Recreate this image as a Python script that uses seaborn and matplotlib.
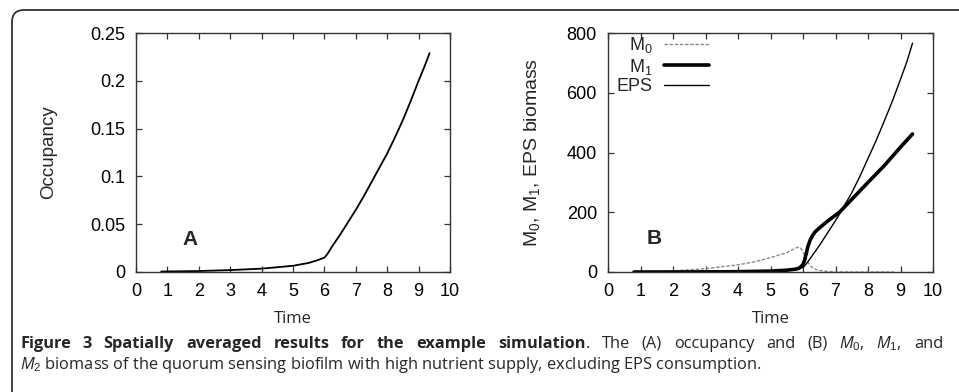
import matplotlib
matplotlib.use("Agg")
import matplotlib.pyplot as plt
import matplotlib.patches as mpatches
from matplotlib.transforms import IdentityTransform
import seaborn as sns
import pandas as pd

# --- data ---
# panel A: occupancy
time_a = [0.8, 1, 2, 3, 4, 5, 5.5, 5.75, 6.0, 6.1, 6.25, 6.5, 6.75, 7, 7.25,
          7.5, 7.75, 8, 8.25, 8.5, 8.75, 9, 9.2, 9.35]
occupancy = [0.0005, 0.0006, 0.001, 0.002, 0.0035, 0.0065, 0.0095, 0.012,
             0.015, 0.019, 0.027, 0.039, 0.052, 0.065, 0.079, 0.094, 0.109,
             0.124, 0.141, 0.159, 0.179, 0.200, 0.216, 0.229]

# panel B: biomass
time_m0 = [0.8, 1, 2, 3, 4, 4.5, 5, 5.5, 5.7, 5.8, 5.86, 5.93, 6.0, 6.05,
           6.1, 6.2, 6.3, 6.4, 6.5, 6.75, 7, 7.5, 8.8]
m0 = [0.5, 1, 4, 11, 24, 34, 48, 65, 76, 81, 83, 80, 68, 55,
      42, 24, 14, 8, 5, 2, 0.5, 0, 0]

time_m1 = [0.8, 2, 3, 4, 5, 5.5, 5.8, 5.9, 6.0, 6.05, 6.1, 6.15, 6.22, 6.3,
           6.37, 6.5, 6.62, 6.8, 7, 7.14, 7.5, 8, 8.5, 9, 9.37]
m1 = [0, 0, 0.5, 1, 3, 6, 10, 14, 25, 40, 62, 85, 107, 123,
      134, 147, 158, 174, 190, 202, 243, 300, 356, 418, 462]

time_eps = [0.8, 2, 3, 4, 5, 5.5, 5.8, 6.0, 6.1, 6.22, 6.37, 6.5, 6.62, 6.75,
            7, 7.14, 7.25, 7.5, 7.75, 8, 8.25, 8.5, 8.75, 9, 9.2, 9.37]
eps = [0, 0, 0.2, 0.5, 3, 7, 11, 15, 27, 45, 68, 88, 108, 130,
       172, 197, 218, 265, 320, 380, 440, 505, 572, 645, 705, 766]

# caption, first line is justified word by word
caption_1 = [("Figure", True), ("3", True), ("Spatially", True), ("averaged", True),
             ("results", True), ("for", True), ("the", True), ("example", True),
             ("simulation", True), (".", False), ("The", False), ("(A)", False),
             ("occupancy", False), ("and", False), ("(B)", False), ("$M_0$,", False),
             ("$M_1$,", False), ("and", False)]
caption_2 = "$M_2$ biomass of the quorum sensing biofilm with high nutrient supply, excluding EPS consumption."

df_a = pd.DataFrame({"Time": time_a, "Occupancy": occupancy})
df_m0 = pd.DataFrame({"Time": time_m0, "val": m0})
df_m1 = pd.DataFrame({"Time": time_m1, "val": m1})
df_eps = pd.DataFrame({"Time": time_eps, "val": eps})

sns.set_style("ticks")
plt.rcParams["font.family"] = ["Liberation Sans", "DejaVu Sans"]
plt.rcParams["mathtext.fontset"] = "custom"
plt.rcParams["mathtext.rm"] = "Liberation Sans"
plt.rcParams["mathtext.it"] = "Open Sans:italic"

fig = plt.figure(figsize=(9.59, 3.92), dpi=100)
W, H = 959, 392
ax_a = fig.add_axes([136 / W, 1 - 272 / H, 314 / W, 239 / H])
ax_b = fig.add_axes([608 / W, 1 - 272 / H, 325 / W, 239 / H])

spine_col = "#333333"
tick_fs = 13

sns.lineplot(data=df_a, x="Time", y="Occupancy", ax=ax_a, color="black", lw=1.3)
ax_a.set_xlim(0, 10)
ax_a.set_ylim(0, 0.25)
ax_a.set_yticks([0, 0.05, 0.1, 0.15, 0.2, 0.25])
ax_a.set_yticklabels(["0", "0.05", "0.1", "0.15", "0.2", "0.25"])
ax_a.set_ylabel("Occupancy", fontsize=13.5)
ax_a.yaxis.set_label_coords(-0.252, 0.5)
ax_a.text(0.172, 0.135, "A", transform=ax_a.transAxes, fontsize=15,
          fontweight="bold", ha="center", va="center")

sns.lineplot(data=df_m0, x="Time", y="val", ax=ax_b, color="#8a8a8a", lw=1.0,
             linestyle=(0, (2.5, 1.2)), label="M$_0$")
sns.lineplot(data=df_m1, x="Time", y="val", ax=ax_b, color="black", lw=2.6,
             label="M$_1$")
sns.lineplot(data=df_eps, x="Time", y="val", ax=ax_b, color="black", lw=1.0,
             label="EPS")
ax_b.set_xlim(0, 10)
ax_b.set_ylim(0, 800)
ax_b.set_yticks([0, 200, 400, 600, 800])
ax_b.set_ylabel("M$_0$, M$_1$, EPS biomass", fontsize=14)
ax_b.yaxis.set_label_coords(-0.203, 0.5)
ax_b.text(0.142, 0.142, "B", transform=ax_b.transAxes, fontsize=15,
          fontweight="bold", ha="center", va="center")
leg = ax_b.legend(loc="upper left", frameon=False, markerfirst=False,
                  handlelength=2.5, fontsize=13, labelspacing=0.07,
                  handletextpad=0.6, borderaxespad=0.0,
                  bbox_to_anchor=(0.005, 1.02))

for ax in (ax_a, ax_b):
    ax.set_xticks(range(0, 11))
    ax.set_xlabel("Time", fontsize=12, family="Open Sans")
    ax.xaxis.set_label_coords(0.5, -0.163)
    ax.tick_params(direction="in", length=4, width=0.9, colors=spine_col,
                   labelcolor="black", labelsize=tick_fs, pad=8,
                   top=True, right=True)
    for s in ax.spines.values():
        s.set_visible(True)
        s.set_color(spine_col)
        s.set_linewidth(1.0)

# rounded frame around the figure + caption
frame = mpatches.FancyBboxPatch((12, -60), 1000, 60 + H - 10,
                                boxstyle="round,pad=0,rounding_size=12",
                                transform=IdentityTransform(), fill=False,
                                edgecolor="#333333", lw=1.3)
fig.add_artist(frame)

cap_fs = 11.8
cap_font = "Open Sans"
x_left, x_right = 20, 943
y1 = 1 - 348 / H
words = []
for txt, bold in caption_1:
    words.append(fig.text(0, y1, txt, family=cap_font, va="baseline",
                          fontsize=cap_fs,
                          fontweight="bold" if bold else "normal"))
fig.canvas.draw()
rend = fig.canvas.get_renderer()
widths = [w.get_window_extent(renderer=rend).width for w in words]
n_gaps = len(words) - 2  # no gap before the period
gap = (x_right - x_left - sum(widths)) / n_gaps
x = x_left
for i, (w, wd) in enumerate(zip(words, widths)):
    if i > 0 and caption_1[i][0] != ".":
        x += gap
    w.set_x(x / W)
    x += wd
fig.text(x_left / W, 1 - 369 / H, caption_2, fontsize=cap_fs, family=cap_font,
         va="baseline")

fig.savefig("out.png", dpi=100)
